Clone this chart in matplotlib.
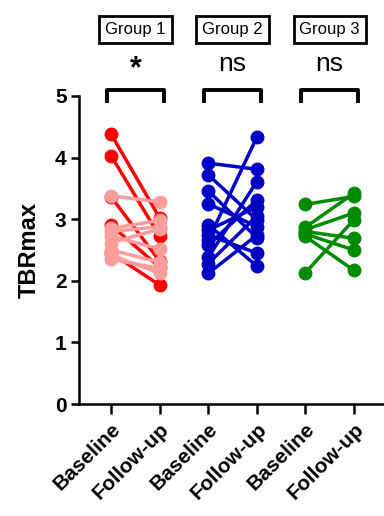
import matplotlib.pyplot as plt

plt.rcParams['font.family'] = ['Liberation Sans', 'DejaVu Sans']

categories = ['Baseline', 'Follow-up', 'Baseline', 'Follow-up', 'Baseline', 'Follow-up']
groups = ['Group 1', 'Group 2', 'Group 3']
signif = ['*', 'ns', 'ns']

# Group 1, two shades
g1_dark_base = [4.38, 4.03, 3.36, 2.90, 2.45]
g1_dark_fu = [3.02, 2.72, 2.32, 2.22, 1.93]
g1_light_base = [3.38, 2.85, 2.80, 2.72, 2.62, 2.50, 2.42, 2.35]
g1_light_fu = [3.28, 2.98, 2.88, 2.52, 2.84, 2.30, 2.12, 2.20]

# Group 2
g2_base = [3.91, 3.72, 3.46, 3.25, 2.91, 2.82, 2.74, 2.66, 2.58, 2.38, 2.28, 2.12]
g2_fu = [3.81, 2.99, 2.70, 2.88, 2.24, 3.20, 2.45, 4.33, 3.31, 3.61, 3.05, 2.74]

# Group 3
g3_base = [3.24, 2.87, 2.83, 2.80, 2.76, 2.72, 2.13]
g3_fu = [3.37, 3.42, 3.10, 2.69, 2.50, 2.17, 2.99]

fig = plt.figure(figsize=(3.84, 5.16), dpi=100)
ax = fig.add_axes([0.206, 0.217, 0.794, 0.597])


def pairs(x0, base, fu, color):
    for b, f in zip(base, fu):
        ax.plot([x0, x0 + 1], [b, f], color=color, lw=2.5, marker='o',
                markersize=9, solid_capstyle='round', clip_on=False)


pairs(0, g1_dark_base, g1_dark_fu, '#ff0000')
pairs(0, g1_light_base, g1_light_fu, '#ff9c9c')
pairs(2, g2_base, g2_fu, '#0000c4')
pairs(4, g3_base, g3_fu, '#008a00')

ax.set_xlim(-0.66, 5.62)
ax.set_ylim(0, 5)
ax.set_yticks([0, 1, 2, 3, 4, 5])
ax.set_xticks(range(6))
ax.set_xticklabels(categories, rotation=45, ha='right', rotation_mode='anchor',
                   fontsize=15, fontweight='bold')
for lab in ax.get_yticklabels():
    lab.set_fontsize(15)
    lab.set_fontweight('bold')
ax.set_ylabel('TBRmax', fontsize=17, fontweight='bold', labelpad=10)

for s in ['top', 'right']:
    ax.spines[s].set_visible(False)
for s in ['left', 'bottom']:
    ax.spines[s].set_linewidth(1.8)
ax.tick_params(axis='y', width=1.8, length=6, pad=3)
ax.tick_params(axis='x', width=1.8, length=7, pad=4)

# brackets, stars, group boxes
for i, (g, s) in enumerate(zip(groups, signif)):
    x0 = 2 * i
    ax.plot([x0 - 0.08, x0 - 0.08, x0 + 1.08, x0 + 1.08], [4.89, 5.1, 5.1, 4.89],
            color='black', lw=2.8, clip_on=False, solid_capstyle='butt')
    if s == '*':
        ax.text(x0 + 0.5, 5.43, s, ha='center', va='center', fontsize=22,
                fontweight='bold', clip_on=False)
    else:
        ax.text(x0 + 0.5, 5.52, s, ha='center', va='center', fontsize=19,
                clip_on=False)
    ax.text(x0 + 0.5, 6.08, g, ha='center', va='center', fontsize=12,
            bbox=dict(boxstyle='square,pad=0.35', fc='white', ec='black', lw=2),
            clip_on=False)

fig.savefig('out.png', dpi=100)
